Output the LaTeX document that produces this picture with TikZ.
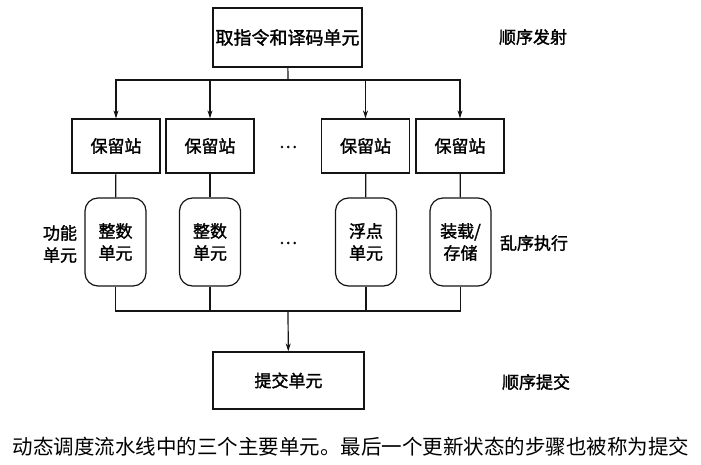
\documentclass[tikz,border=0pt]{standalone}
\usepackage{fontspec}
\setmainfont{Noto Sans CJK SC}
\newfontfamily\heavy[FakeBold=1.6]{Noto Sans CJK SC}
\usepackage{tikz}
\usetikzlibrary{arrows.meta,positioning}
\definecolor{cLine}{RGB}{20,20,20}

\begin{document}
\begin{tikzpicture}[x=1pt,y=-1pt,
  box/.style={draw=cLine,line width=1.2pt,minimum width=88pt,minimum height=54pt,inner sep=0pt,font=\heavy\fontsize{17}{20}\selectfont},
  unit/.style={draw=cLine,line width=1.2pt,rounded corners=13pt,minimum width=61pt,minimum height=88pt,inner sep=0pt,align=center,font=\heavy\fontsize{17}{22}\selectfont},
  lbl/.style={font=\heavy\fontsize{17}{22}\selectfont,align=center},
  bus/.style={cLine,line width=1.2pt},
  tip/.style={bus,-{Stealth[length=8pt,width=5pt]}}]
  \useasboundingbox (0,0) rectangle (701,465);
  % fetch and decode
  \node[box,minimum width=149pt,minimum height=59pt,font=\heavy\fontsize{18}{20}\selectfont] (fetch) at (287.5,37.5) {取指令和译码单元};
  \node[lbl] (issue) at (533,37) {顺序发射};
  % reservation stations
  \node[box] (rs1) at (116,146) {保留站};
  \node[box] (rs2) at (210,146) {保留站};
  \node[lbl] (rsdots) at (288,147) {…};
  \node[box] (rs3) at (365.5,146) {保留站};
  \node[box] (rs4) at (460,146) {保留站};
  % functional units
  \node[lbl] (fulbl) at (60,244) {功能\\单元};
  \node[unit] (fu1) at (115.5,242) {整数\\单元};
  \node[unit] (fu2) at (210,242) {整数\\单元};
  \node[lbl] (fudots) at (288,243) {…};
  \node[unit] (fu3) at (366,242) {浮点\\单元};
  \node[unit] (fu4) at (460.5,242) {装载/\\存储};
  \node[lbl] (exec) at (534,243) {乱序执行};
  % commit
  \node[box,minimum width=151pt,minimum height=57pt] (commit) at (288.5,380.5) {提交单元};
  \node[lbl] (inorder) at (536,382) {顺序提交};
  \node[font=\fontsize{20.5}{22}\selectfont] (caption) at (351,447) {动态调度流水线中的三个主要单元。最后一个更新状态的步骤也被称为提交};
  % buses
  \coordinate (busT) at (288,80);
  \coordinate (busB) at (288,311);
  \draw[bus] (fetch) -- (busT);
  \foreach \i in {1,...,4} {
    \draw[tip] (busT) -| (rs\i.north);
    \draw[bus] (rs\i) -- (fu\i);
    \draw[bus] (fu\i.south) |- (busB);
  }
  \draw[tip] (busB) -- (commit);
\end{tikzpicture}
\end{document}
